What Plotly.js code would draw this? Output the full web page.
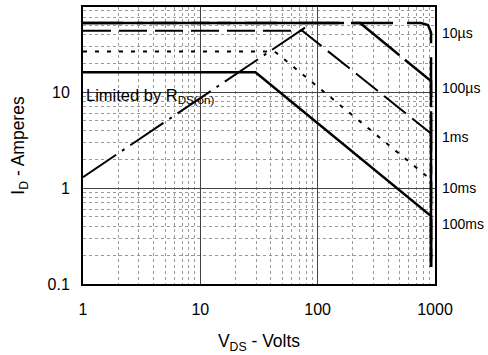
<!DOCTYPE html>
<html>
<head>
<meta charset="utf-8">
<script src="https://cdn.plot.ly/plotly-3.0.1.min.js"></script>
<style>html,body{margin:0;padding:0;background:#fff;}#chart{width:488px;height:355px;}</style>
</head>
<body>
<div id="chart"></div>
<script>
// Safe operating area curves (V_DS in volts, I_D in amperes)
var vds10us  = [1, 760, 870, 925, 925];
var id10us   = [52.5, 52.5, 50, 42, 0.15];
var vds100us = [1, 230, 925, 925];
var id100us  = [52.5, 52.5, 13, 0.15];
var vds1ms   = [1, 74, 925, 925];
var id1ms    = [43.6, 43.6, 3.7, 0.15];
var vds10ms  = [1, 43, 925, 925];
var id10ms   = [26.5, 26.5, 1.22, 0.15];
var vds100ms = [1, 29.5, 925, 925];
var id100ms  = [16.1, 16.1, 0.51, 0.15];
var vdsRds   = [1, 78];
var idRds    = [1.3, 47];

var curveLabels = ["10µs", "100µs", "1ms", "10ms", "100ms"];
var xTicks = [1, 10, 100, 1000];
var yTicks = [0.1, 1, 10];
var xMinor = [2,3,4,5,6,7,8,9,20,30,40,50,60,70,80,90,200,300,400,500,600,700,800,900];
var yMinor = [0.2,0.3,0.4,0.5,0.6,0.7,0.8,0.9,2,3,4,5,6,7,8,9,20,30,40,50,60,70];

var FONT = "Liberation Sans, Arial, Helvetica, sans-serif";

function tr(x, y, dash, w) {
  return {x: x, y: y, mode: "lines", type: "scatter", hoverinfo: "skip",
          line: {color: "#000", width: w, dash: dash}, showlegend: false};
}

var data = [
  tr(vds10us, id10us, "40px,14px", 2.5),
  tr(vds100us, id100us, "60px,7px", 2.5),
  tr(vds1ms, id1ms, "28px,8px", 2),
  tr(vds10ms, id10ms, "4px,8px", 2),
  tr(vds100ms, id100ms, "solid", 2.5),
  tr(vdsRds, idRds, "40px,7px,3px,7px", 2)
];

var labelY = [0.906, 0.708, 0.531, 0.347, 0.217];
var annotations = curveLabels.map(function (t, i) {
  return {text: t, xref: "paper", yref: "paper", x: 1.015, y: labelY[i],
          xanchor: "left", yanchor: "middle", showarrow: false,
          font: {family: FONT, size: 14, color: "#000"}};
});
annotations.push({text: "Limited by R<sub>DS(on)</sub>", xref: "paper", yref: "paper",
  x: 0.004, y: 0.68, xanchor: "left", yanchor: "middle", showarrow: false,
  font: {family: FONT, size: 16.5, color: "#000"}});

var layout = {
  width: 488, height: 355,
  margin: {l: 83, r: 53, t: 7, b: 71, pad: 0},
  paper_bgcolor: "#fff", plot_bgcolor: "#fff",
  font: {family: FONT, color: "#000", size: 16},
  xaxis: {
    type: "log", range: [0, 3], tickmode: "array", tickvals: xTicks,
    ticktext: xTicks.map(String), ticks: "", ticklabelstandoff: 10,
    showgrid: true, gridcolor: "#444", gridwidth: 1,
    minor: {tickmode: "array", tickvals: xMinor, showgrid: true, gridcolor: "#999", griddash: "3px,3px", gridwidth: 1, ticks: ""},
    showline: true, mirror: true, linecolor: "#000", linewidth: 2, zeroline: false,
    tickfont: {family: FONT, size: 16},
    title: {text: "V<sub>DS</sub> - Volts", font: {family: FONT, size: 17.5}, standoff: 18}
  },
  yaxis: {
    type: "log", range: [-1, Math.log10(77)], tickmode: "array", tickvals: yTicks,
    ticktext: ["0.1", "1", "10"], ticks: "", ticklabelstandoff: 8,
    showgrid: true, gridcolor: "#444", gridwidth: 1,
    minor: {tickmode: "array", tickvals: yMinor, showgrid: true, gridcolor: "#999", griddash: "3px,3px", gridwidth: 1, ticks: ""},
    showline: true, mirror: true, linecolor: "#000", linewidth: 2, zeroline: false,
    tickfont: {family: FONT, size: 16},
    title: {text: "I<sub>D</sub> - Amperes", font: {family: FONT, size: 17.5}, standoff: 18}
  },
  annotations: annotations,
  showlegend: false
};

Plotly.newPlot("chart", data, layout, {staticPlot: true, displayModeBar: false});
</script>
</body>
</html>
